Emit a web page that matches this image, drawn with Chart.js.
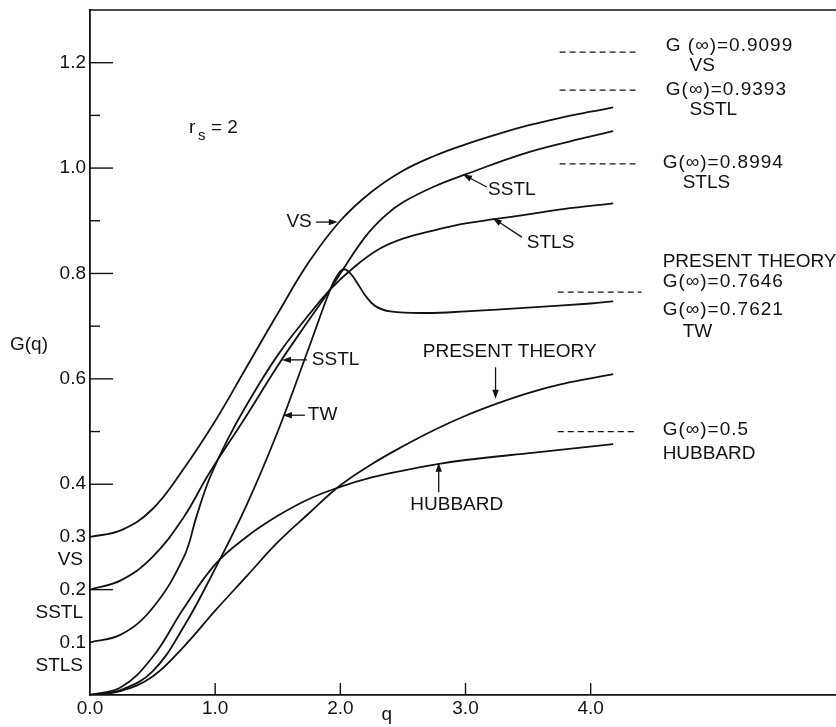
<!DOCTYPE html>
<html>
<head>
<meta charset="utf-8">
<title>G(q), r_s = 2</title>
<script src="https://cdn.jsdelivr.net/npm/chart.js@4.4.0/dist/chart.umd.min.js"></script>
<style>
  html, body { margin: 0; padding: 0; background: #fff; }
  canvas { display: block; }
</style>
</head>
<body>
<canvas id="chart" width="836" height="727"></canvas>
<script>
// Local-field factor G(q) for r_s = 2, several theories.
const qVS  = [0, 0.25, 0.5, 0.75, 1.0, 1.25, 1.5, 1.75, 2.0, 2.25, 2.5, 2.75, 3.0, 3.25, 3.5, 3.75, 4.0, 4.18];
const gVS  = [0.300, 0.313, 0.353, 0.430, 0.520, 0.622, 0.724, 0.822, 0.900, 0.955, 0.995, 1.023, 1.045, 1.064, 1.081, 1.095, 1.107, 1.115];

const qSSTL = [0, 0.25, 0.5, 0.75, 0.95, 1.25, 1.5, 1.75, 1.92, 2.0, 2.2, 2.35, 2.5, 2.75, 3.0, 3.5, 4.0, 4.18];
const gSSTL = [0.200, 0.218, 0.262, 0.338, 0.420, 0.530, 0.625, 0.712, 0.770, 0.800, 0.870, 0.908, 0.935, 0.965, 0.988, 1.030, 1.060, 1.070];

const qSTLS = [0, 0.25, 0.5, 0.75, 0.85, 0.95, 1.1, 1.25, 1.5, 1.75, 1.92, 2.1, 2.3, 2.5, 2.75, 3.0, 3.23, 3.5, 3.78, 4.18];
const gSTLS = [0.100, 0.115, 0.165, 0.262, 0.338, 0.408, 0.485, 0.550, 0.645, 0.722, 0.770, 0.810, 0.845, 0.866, 0.882, 0.895, 0.903, 0.912, 0.922, 0.933];

const qTW = [0, 0.25, 0.5, 0.75, 1.0, 1.25, 1.5, 1.75, 1.92, 1.98, 2.03, 2.08, 2.14, 2.2, 2.28, 2.4, 2.7, 3.0, 3.5, 4.0, 4.18];
const gTW = [0, 0.010, 0.045, 0.130, 0.240, 0.360, 0.500, 0.660, 0.770, 0.798, 0.808, 0.800, 0.780, 0.758, 0.738, 0.728, 0.725, 0.728, 0.735, 0.743, 0.747];

const qPresent = [0, 0.25, 0.5, 0.75, 1.0, 1.25, 1.5, 1.75, 2.0, 2.25, 2.5, 2.75, 3.0, 3.25, 3.5, 3.75, 4.0, 4.18];
const gPresent = [0, 0.008, 0.035, 0.092, 0.160, 0.225, 0.290, 0.345, 0.398, 0.438, 0.472, 0.503, 0.530, 0.553, 0.573, 0.589, 0.601, 0.609];

const qHubbard = [0, 0.25, 0.5, 0.75, 1.0, 1.25, 1.5, 1.75, 2.0, 2.25, 2.5, 2.8, 3.0, 3.55, 4.18];
const gHubbard = [0, 0.015, 0.072, 0.165, 0.248, 0.300, 0.340, 0.372, 0.395, 0.413, 0.426, 0.439, 0.446, 0.460, 0.476];

// Short dashed markers beside the G(infinity) notes
const dashLevels = [1.220, 1.148, 1.008, 0.7646, 0.5];
const dashFrom   = [3.752, 3.752, 3.752, 3.737, 3.737];
const dashTo     = [4.367, 4.367, 4.367, 4.407, 4.351];
const gInfinity  = ['0.9099', '0.9393', '0.8994', '0.7646', '0.7621', '0.5'];

// Axis ticks
const xTickValues   = [0, 1, 2, 3, 4];
const yTickValues   = [0.1, 0.2, 0.3, 0.4, 0.6, 0.8, 1.0, 1.2];
const yMajorMarks   = [0.2, 0.4, 0.6, 0.8, 1.0, 1.2];
const yMinorMarks   = [0.5, 0.7, 0.9, 1.1];
const xMarks        = [1, 2, 3, 4];
const interceptVals = [0.3, 0.2, 0.1];
const interceptNames = ['VS', 'SSTL', 'STLS'];

const INK = '#121212';
const FONT = '"Liberation Sans", Arial, sans-serif';
const FS = 19;

const series = [
  { name: 'VS', q: qVS, g: gVS },
  { name: 'SSTL', q: qSSTL, g: gSSTL },
  { name: 'STLS', q: qSTLS, g: gSTLS },
  { name: 'TW', q: qTW, g: gTW },
  { name: 'PRESENT THEORY', q: qPresent, g: gPresent },
  { name: 'HUBBARD', q: qHubbard, g: gHubbard }
];

const datasets = series.map(s => ({
  label: s.name,
  data: s.q.map((q, i) => ({ x: q, y: s.g[i] })),
  borderColor: INK,
  borderWidth: 1.8,
  pointRadius: 0,
  fill: false,
  tension: 0.4
}));

dashLevels.forEach((lv, i) => {
  datasets.push({
    label: 'marker ' + i,
    data: [{ x: dashFrom[i], y: lv }, { x: dashTo[i], y: lv }],
    borderColor: INK,
    borderWidth: 1.2,
    borderDash: [6, 4],
    pointRadius: 0,
    fill: false
  });
});

// Text notes on the right-hand side
const sideNotes = [
  { t: 'G (∞)=' + gInfinity[0], q: 4.60, g: 1.233, wide: true },
  { t: 'VS', q: 4.79, g: 1.195 },
  { t: 'G(∞)=' + gInfinity[1], q: 4.60, g: 1.148, wide: true },
  { t: 'SSTL', q: 4.79, g: 1.110 },
  { t: 'G(∞)=' + gInfinity[2], q: 4.575, g: 1.0095, wide: true },
  { t: 'STLS', q: 4.735, g: 0.9715 },
  { t: 'PRESENT THEORY', q: 4.575, g: 0.8216 },
  { t: 'G(∞)=' + gInfinity[3], q: 4.575, g: 0.7837, wide: true },
  { t: 'G(∞)=' + gInfinity[4], q: 4.575, g: 0.7306, wide: true },
  { t: 'TW', q: 4.735, g: 0.6888 },
  { t: 'G(∞)=' + gInfinity[5], q: 4.575, g: 0.5028, wide: true },
  { t: 'HUBBARD', q: 4.575, g: 0.4573 }
];

// Curve labels with pointer arrows
const callouts = [
  { t: 'VS', tq: 1.772, tg: 0.8975, align: 'right', from: [1.804, 0.8975], to: [1.98, 0.8975] },
  { t: 'SSTL', tq: 3.18, tg: 0.958, align: 'left', from: [3.17, 0.964], to: [2.98, 0.988] },
  { t: 'STLS', tq: 3.49, tg: 0.858, align: 'left', from: [3.45, 0.869], to: [3.218, 0.905] },
  { t: 'SSTL', tq: 1.772, tg: 0.636, align: 'left', from: [1.733, 0.636], to: [1.533, 0.636] },
  { t: 'TW', tq: 1.74, tg: 0.531, align: 'left', from: [1.717, 0.531], to: [1.541, 0.531] },
  { t: 'PRESENT THEORY', tq: 3.353, tg: 0.651, align: 'center', from: [3.24, 0.622], to: [3.24, 0.562] },
  { t: 'HUBBARD', tq: 2.93, tg: 0.3605, align: 'center', from: [2.786, 0.385], to: [2.786, 0.441] }
];

function arrow(ctx, x1, y1, x2, y2) {
  const ang = Math.atan2(y2 - y1, x2 - x1);
  const L = 9, W = 3.2;
  ctx.beginPath();
  ctx.moveTo(x1, y1);
  ctx.lineTo(x2 - Math.cos(ang) * L * 0.8, y2 - Math.sin(ang) * L * 0.8);
  ctx.stroke();
  ctx.beginPath();
  ctx.moveTo(x2, y2);
  ctx.lineTo(x2 - Math.cos(ang) * L - Math.sin(ang) * W, y2 - Math.sin(ang) * L + Math.cos(ang) * W);
  ctx.lineTo(x2 - Math.cos(ang) * L + Math.sin(ang) * W, y2 - Math.sin(ang) * L - Math.cos(ang) * W);
  ctx.closePath();
  ctx.fill();
}

const decorations = {
  id: 'decorations',
  afterDatasetsDraw(chart) {
    const { ctx, chartArea: a, scales: { x, y } } = chart;
    ctx.save();
    ctx.strokeStyle = INK;
    ctx.fillStyle = INK;

    // top frame line
    ctx.lineWidth = 1.6;
    ctx.beginPath();
    ctx.moveTo(a.left, a.top);
    ctx.lineTo(a.right, a.top);
    ctx.stroke();

    // inward tick marks
    ctx.lineWidth = 1.4;
    yMajorMarks.forEach(v => {
      const py = y.getPixelForValue(v);
      ctx.beginPath(); ctx.moveTo(a.left, py); ctx.lineTo(a.left + 23, py); ctx.stroke();
    });
    yMinorMarks.forEach(v => {
      const py = y.getPixelForValue(v);
      ctx.beginPath(); ctx.moveTo(a.left, py); ctx.lineTo(a.left + 10, py); ctx.stroke();
    });
    xMarks.forEach(v => {
      const pxx = x.getPixelForValue(v);
      ctx.beginPath(); ctx.moveTo(pxx, a.bottom); ctx.lineTo(pxx, a.bottom - 12); ctx.stroke();
    });

    // theory names under the q = 0 intercepts
    ctx.font = FS + 'px ' + FONT;
    ctx.textAlign = 'right';
    ctx.textBaseline = 'middle';
    interceptVals.forEach((v, i) => {
      ctx.fillText(interceptNames[i], a.left - 7, y.getPixelForValue(v) + 23);
    });

    // axis titles
    ctx.textAlign = 'center';
    ctx.fillText('G(q)', 29, y.getPixelForValue(0.664));
    ctx.textBaseline = 'alphabetic';
    ctx.fillText('q', x.getPixelForValue(2.371), a.bottom + 25);

    // r_s = 2
    ctx.textAlign = 'left';
    const rx = x.getPixelForValue(0.79), ry = y.getPixelForValue(1.066);
    ctx.font = FS + 'px ' + FONT;
    ctx.fillText('r', rx, ry);
    ctx.font = '15px ' + FONT;
    ctx.fillText('s', rx + 9, ry + 7);
    ctx.font = FS + 'px ' + FONT;
    ctx.fillText('= 2', rx + 22, ry);

    // right-hand notes
    ctx.textBaseline = 'middle';
    sideNotes.forEach(n => {
      ctx.font = FS + 'px ' + FONT;
      if ('letterSpacing' in ctx) ctx.letterSpacing = n.wide ? '1px' : '0px';
      ctx.fillText(n.t, x.getPixelForValue(n.q), y.getPixelForValue(n.g));
    });
    if ('letterSpacing' in ctx) ctx.letterSpacing = '0px';

    // callouts
    ctx.lineWidth = 1.3;
    callouts.forEach(c => {
      ctx.textAlign = c.align;
      ctx.fillText(c.t, x.getPixelForValue(c.tq), y.getPixelForValue(c.tg));
      arrow(ctx,
        x.getPixelForValue(c.from[0]), y.getPixelForValue(c.from[1]),
        x.getPixelForValue(c.to[0]), y.getPixelForValue(c.to[1]));
    });
    ctx.restore();
  }
};

new Chart(document.getElementById('chart'), {
  type: 'line',
  data: { datasets },
  plugins: [decorations],
  options: {
    responsive: false,
    animation: false,
    layout: { padding: { left: 0, top: 10, right: 0, bottom: 0 } },
    plugins: { legend: { display: false }, tooltip: { enabled: false } },
    scales: {
      x: {
        type: 'linear',
        min: 0,
        max: 5.96,
        afterBuildTicks: s => { s.ticks = xTickValues.map(v => ({ value: v })); },
        afterFit: s => { s.height = 32; s.paddingLeft = 0; s.paddingRight = 0; },
        ticks: {
          autoSkip: false,
          maxRotation: 0,
          padding: 2,
          color: INK,
          font: { family: FONT, size: FS },
          callback: v => Number(v).toFixed(1)
        },
        grid: { display: false, drawTicks: false },
        border: { display: true, color: INK, width: 1.8 }
      },
      y: {
        type: 'linear',
        min: 0,
        max: 1.3,
        afterBuildTicks: s => { s.ticks = yTickValues.map(v => ({ value: v })); },
        afterFit: s => { s.width = 90; s.paddingTop = 0; s.paddingBottom = 0; },
        ticks: {
          autoSkip: false,
          padding: 4,
          color: INK,
          font: { family: FONT, size: FS },
          callback: v => Number(v).toFixed(1)
        },
        grid: { display: false, drawTicks: false },
        border: { display: true, color: INK, width: 1.8 }
      }
    }
  }
});
</script>
</body>
</html>
